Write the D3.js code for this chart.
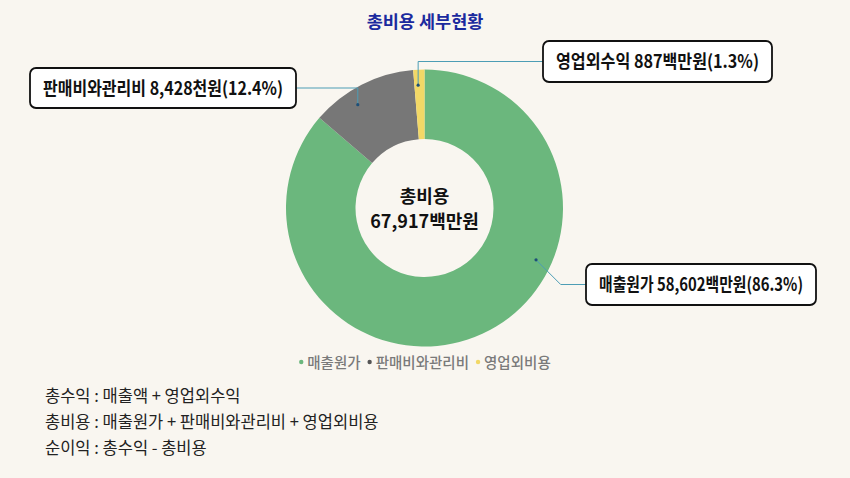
<!DOCTYPE html>
<html><head><meta charset="utf-8">
<script src="https://cdn.jsdelivr.net/npm/d3@7"></script>
<style>
body{margin:0;background:#f9f6f0;}
svg{display:block;font-family:"Noto Sans CJK KR","Noto Sans",sans-serif;}
</style></head>
<body><svg id="c" width="850" height="478"></svg>
<script>
const categories = ["매출원가", "판매비와관리비", "영업외비용"];
const values = [58602, 8428, 887];
const labelTexts = ["매출원가 58,602백만원(86.3%)", "판매비와관리비 8,428천원(12.4%)", "영업외수익 887백만원(1.3%)"];
const colors = ["#6bb77d", "#777777", "#f2d866"];
const legendDotColors = ["#6bb77d", "#555555", "#f2d866"];
const titleText = "총비용 세부현황";
const centerLines = ["총비용", "67,917백만원"];
const notes = ["총수익 : 매출액 + 영업외수익", "총비용 : 매출원가 + 판매비와관리비 + 영업외비용", "순이익 : 총수익 - 총비용"];

const svg = d3.select("#c");
const W = 850, H = 478;
svg.append("rect").attr("width", W).attr("height", H).attr("fill", "#f9f6f0");

svg.append("text").attr("x", 425).attr("y", 28).attr("text-anchor", "middle")
  .attr("font-size", 17.5).attr("font-weight", 700).attr("fill", "#1b2a9e").text(titleText);

const cx = 424.5, cy = 208, R = 138.5, r0 = 69;
const g = svg.append("g").attr("transform", `translate(${cx},${cy})`);
const pie = d3.pie().sort(null).value(d => d)(values);
const arc = d3.arc().innerRadius(r0).outerRadius(R);
g.selectAll("path.s").data(pie).join("path").attr("class", "s")
  .attr("d", arc).attr("fill", (d, i) => colors[i]);

// center text
g.append("text").attr("y", -5).attr("text-anchor", "middle").attr("font-size", 18).attr("font-weight", 700)
  .attr("fill", "#111").text(centerLines[0]);
g.append("text").attr("y", 20).attr("text-anchor", "middle").attr("font-size", 18).attr("font-weight", 700)
  .attr("fill", "#111").text(centerLines[1]);

// labels
const anchorR = 123, t = 0.37;
const boxes = [
  {bend: true, boxX: 586, boxY: 264, boxW: 230, boxH: 41},
  {dir: "left", boxX: 30, boxY: 68, boxW: 266, boxH: 40},
  {dir: "right", boxX: 543, boxY: 41, boxW: 229, boxH: 41}
];
pie.forEach((d, i) => {
  const a = d.startAngle + (d.endAngle - d.startAngle) * t;
  const ax = cx + anchorR * Math.sin(a), ay = cy - anchorR * Math.cos(a);
  const b = boxes[i];
  let pts;
  const midY = b.boxY + b.boxH / 2;
  if (b.bend) {
    const bx = ax + (midY - ay), by = midY;
    pts = [[ax, ay], [bx, by], [b.boxX, by]];
  } else if (b.dir === "left") {
    pts = [[ax, ay], [ax, midY], [b.boxX + b.boxW, midY]];
  } else {
    pts = [[ax, ay], [ax, midY], [b.boxX, midY]];
  }
  svg.append("path").attr("d", d3.line()(pts)).attr("fill", "none")
    .attr("stroke", "#4d9db5").attr("stroke-width", 1);
  svg.append("circle").attr("cx", ax).attr("cy", ay).attr("r", 1.6).attr("fill", "#1d4f78");
  svg.append("rect").attr("x", b.boxX).attr("y", b.boxY).attr("width", b.boxW).attr("height", b.boxH)
    .attr("rx", 6).attr("fill", "#fff").attr("stroke", "#111").attr("stroke-width", 1.8);
  svg.append("text").attr("x", b.boxX + b.boxW / 2).attr("y", midY + 6.5).attr("text-anchor", "middle")
    .attr("font-size", 18).attr("font-weight", 600).attr("fill", "#111")
    .attr("textLength", b.boxW - 26).attr("lengthAdjust", "spacingAndGlyphs").text(labelTexts[i]);
});

// legend
const legG = svg.append("g");
let lx = 0;
const items = [];
categories.forEach((c, i) => {
  const it = legG.append("g");
  it.append("circle").attr("cx", lx + 2).attr("cy", 362).attr("r", 2.2).attr("fill", legendDotColors[i]);
  const tx = it.append("text").attr("x", lx + 8).attr("y", 368).attr("font-size", 14.5).attr("font-weight", 500)
    .attr("fill", "#7a7a7a").text(c);
  lx += 8 + tx.node().getComputedTextLength() + 7;
});
legG.attr("transform", `translate(${425 - (lx - 7) / 2},0)`);

// notes
notes.forEach((n, i) => {
  svg.append("text").attr("x", 45).attr("y", 402 + i * 26).attr("font-size", 16.5)
    .attr("fill", "#222").text(n);
});
</script></body></html>
